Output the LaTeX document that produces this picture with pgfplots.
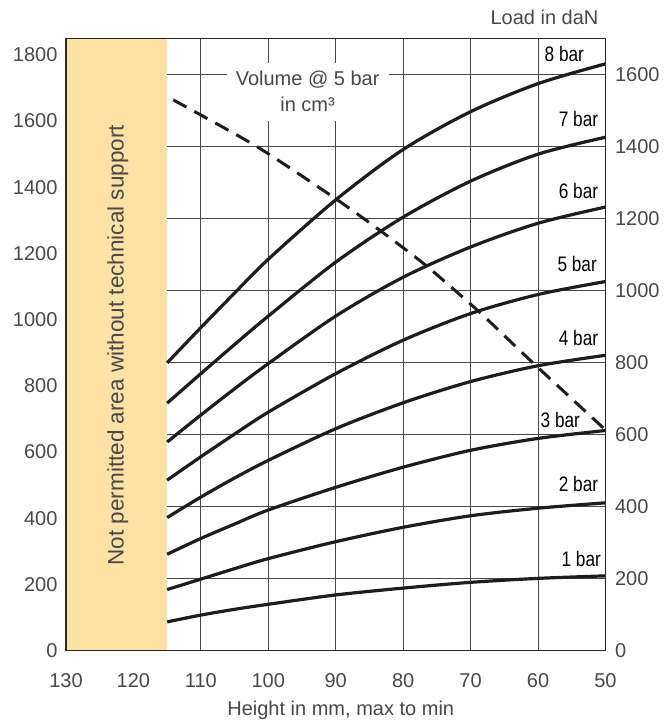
\documentclass[border=0pt]{standalone}
\usepackage{fontspec}
\setmainfont{Liberation Sans}
\newfontfamily\condfont[FakeStretch=0.82]{Liberation Sans}
\usepackage{pgfplots}
\pgfplotsset{compat=1.18}
\definecolor{band}{RGB}{254,225,164}
\definecolor{txt}{RGB}{72,72,72}
\definecolor{crvcol}{RGB}{30,28,28}
\tikzset{lab/.style={font=\condfont\fontsize{21}{24}\selectfont, text=black, anchor=center, inner sep=0pt}}
\begin{document}
\begin{tikzpicture}[font=\fontsize{20}{24}\selectfont]
\pgfplotsset{
  common/.style={
    width=539.5pt, height=612.4pt, scale only axis,
    at={(0,0)}, anchor=south west,
    xmin=50, xmax=130, x dir=reverse,
    xtick={50,60,...,130},
    major tick length=0pt,
    axis line style={black!85, line width=1.2pt},
    tick label style={text=txt},
    /pgf/number format/assume math mode=true,
    /pgf/number format/1000 sep={},
    clip=false,
  },
  curve/.style={crvcol, line width=3.2pt, smooth, tension=0.5, no marks},
}
% right axis: load in daN
\begin{axis}[common,
  ymin=0, ymax=1702,
  ytick={0,200,...,1600},
  yticklabel pos=right,
  yticklabel style={anchor=west, xshift=6pt},
  xticklabel style={yshift=-19pt},
  xmajorgrids, ymajorgrids,
  grid style={black!72, line width=1pt},
]
\fill[band] (axis cs:130,0) rectangle (axis cs:115,1702);
\node[rotate=90, text=txt, font=\fontsize{22.5}{27}\selectfont] at (axis cs:122.3,849) {Not permitted area without technical support};
\node[fill=white, inner sep=0pt, minimum width=162pt, minimum height=58pt, align=center, text=txt] at (axis cs:94.17,1554) {Volume @ 5 bar\\[2pt]in cm³};
\addplot[curve] coordinates {(115,80) (110,99) (105,115) (100,129) (90,155) (80,174) (70,190) (60,201) (50,208)};
\addplot[curve] coordinates {(115,170) (110,199) (105,228) (100,256) (90,303) (80,343) (70,375) (60,396) (50,411)};
\addplot[curve] coordinates {(115,268) (110,312) (105,352) (100,391) (90,454) (80,510) (70,557) (60,590) (50,612)};
\addplot[curve] coordinates {(115,370) (110,427) (105,480) (100,529) (90,617) (80,689) (70,748) (60,792) (50,821)};
\addplot[curve] coordinates {(115,474) (110,539) (105,602) (100,663) (90,770) (80,863) (70,937) (60,990) (50,1026)};
\addplot[curve] coordinates {(115,580) (110,655) (105,728) (100,798) (90,930) (80,1038) (70,1122) (60,1188) (50,1233)};
\addplot[curve] coordinates {(115,688) (110,770) (105,851) (100,930) (90,1080) (80,1205) (70,1305) (60,1380) (50,1427)};
\addplot[curve] coordinates {(115,800) (110,898) (105,994) (100,1088) (90,1253) (80,1393) (70,1498) (60,1576) (50,1631)};
\node[lab] at (axis cs:56.1,1659) {8 bar};
\node[lab] at (axis cs:54.0,1479) {7 bar};
\node[lab] at (axis cs:54.0,1279) {6 bar};
\node[lab] at (axis cs:54.2,1076) {5 bar};
\node[lab] at (axis cs:54.0,868) {4 bar};
\node[lab] at (axis cs:56.7,641) {3 bar};
\node[lab] at (axis cs:54.0,463) {2 bar};
\node[lab] at (axis cs:53.6,255) {1 bar};
\node[anchor=base east, text=txt] at (axis cs:50,1702) [xshift=-3.5pt, yshift=14pt] {Load in daN};
\node[text=txt, anchor=center] at (axis cs:90,0) [xshift=5pt, yshift=-60pt] {Height in mm, max to min};
\end{axis}
% left axis: volume in cm3
\begin{axis}[common,
  ymin=0, ymax=1850,
  ytick={0,200,...,1800},
  yticklabel pos=left,
  yticklabel style={anchor=east, xshift=-5pt},
  xticklabels={},
]
\addplot[curve, line width=3pt, dash pattern=on 15pt off 9pt, tension=0.4] coordinates {(114.1,1664) (101.7,1523) (89.7,1361) (83.4,1269) (76.7,1165) (68.8,1025) (61.2,878) (50,667)};
\end{axis}
\pgfresetboundingbox
\path (-66pt,-73.3pt) rectangle (601pt,650.7pt);
\end{tikzpicture}
\end{document}
